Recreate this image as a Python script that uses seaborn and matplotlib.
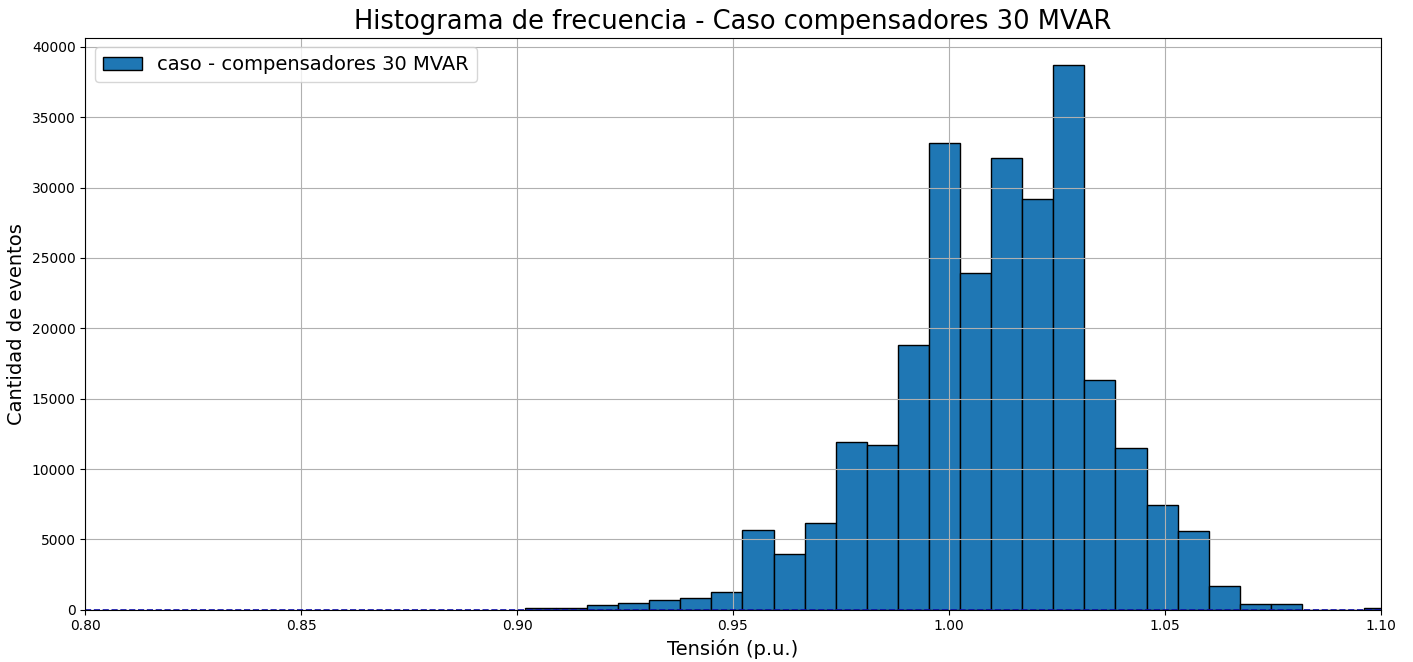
import numpy as np
import pandas as pd
import matplotlib
matplotlib.use('Agg')
import matplotlib.pyplot as plt
import seaborn as sns

# bin layout
bin_start = 0.9018
bin_width = 0.0072
counts = [120, 150, 310, 450, 700, 830, 1290, 5680, 3970, 6180, 11940, 11680,
          18830, 33200, 23950, 32100, 29200, 38720, 16350, 11500, 7460, 5620,
          1650, 380, 390, 0, 0, 110]

edges = bin_start + bin_width * np.arange(len(counts) + 1)
df = pd.DataFrame({'tension': (edges[:-1] + edges[1:]) / 2, 'n': counts})

fig, ax = plt.subplots(figsize=(14.13, 6.62), dpi=100)
sns.histplot(data=df, x='tension', weights='n', binwidth=bin_width,
             binrange=(edges[0], edges[-1]), color='#1f77b4', alpha=1,
             edgecolor='black', linewidth=1, label='caso - compensadores 30 MVAR', ax=ax)
ax.axhline(0, color='#1010b0', linestyle='--', linewidth=1.2)

ax.set_xlim(0.80, 1.10)
ax.set_title('Histograma de frecuencia - Caso compensadores 30 MVAR', fontsize=18.5)
ax.set_xlabel('Tensión (p.u.)', fontsize=14)
ax.set_ylabel('Cantidad de eventos', fontsize=14)
ax.grid(True)
ax.legend(loc='upper left', fontsize=14)

fig.subplots_adjust(left=0.0605, right=0.977, top=0.943, bottom=0.079)
fig.savefig('out.png', dpi=100)
